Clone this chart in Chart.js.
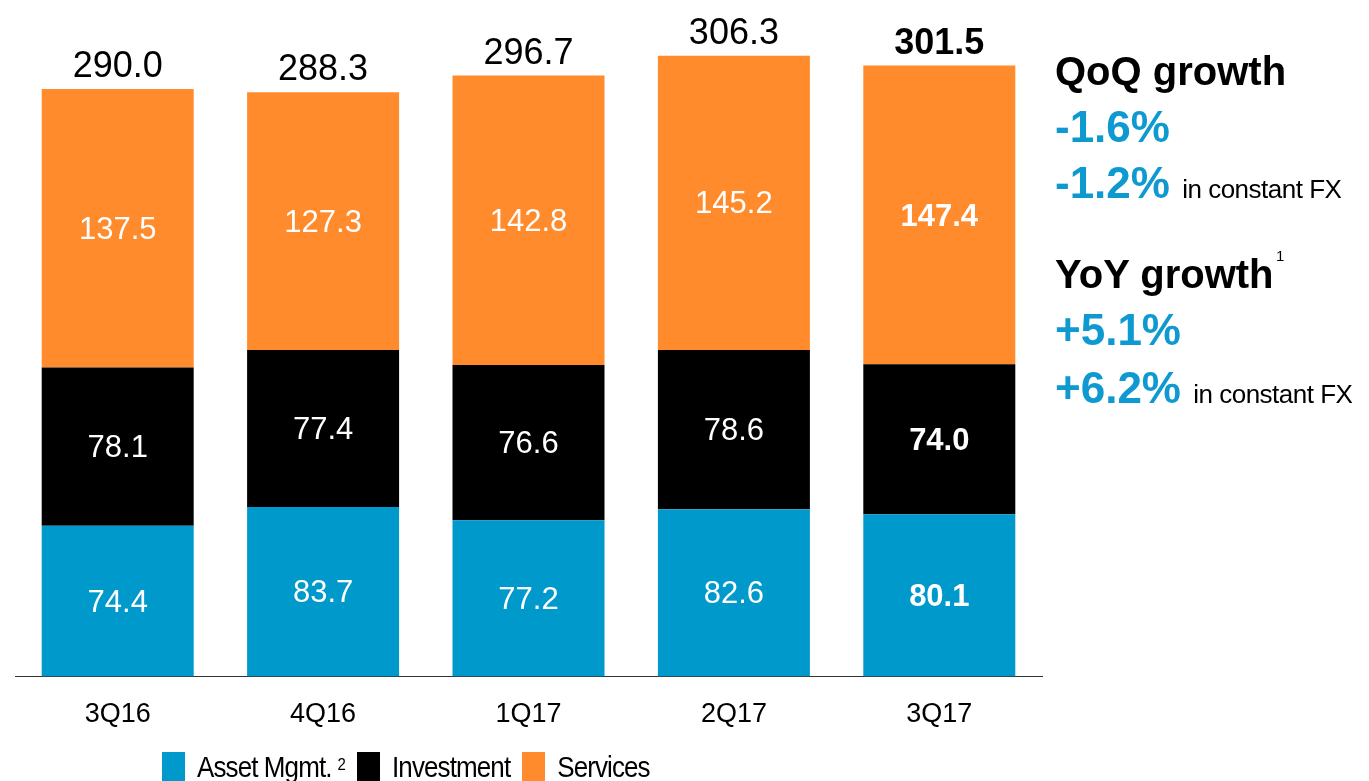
<!DOCTYPE html>
<html>
<head>
<meta charset="utf-8">
<script src="https://cdn.jsdelivr.net/npm/chart.js@4.4.0/dist/chart.umd.min.js"></script>
<style>
    html, body { margin: 0; padding: 0; background: #fff; overflow: hidden; }
    body { width: 1369px; height: 781px; position: relative; font-family: "Liberation Sans", Arial, sans-serif; }
    #wrap { position: absolute; left: 0; top: 0; width: 1369px; height: 781px; }
    .note { position: absolute; left: 1055px; line-height: 1; white-space: nowrap; }
    .head { font-size: 40px; font-weight: bold; color: #000; }
    .pct { font-size: 44px; font-weight: bold; color: #0e9ad0; }
    .pct span { font-size: 26px; font-weight: normal; color: #000; letter-spacing: -0.5px; }
    #legend { position: absolute; left: 162px; top: 752px; display: flex; align-items: flex-start; }
    .item { display: flex; align-items: flex-start; margin-right: 12px; }
    .box { width: 23px; height: 32px; margin-right: 12px; }
    .lab { font-size: 26px; line-height: 1; margin-top: 0px; letter-spacing: -0.9px; transform: scaleY(1.12); transform-origin: top left; }
    .lab sup { font-size: 15px; vertical-align: top; position: relative; top: 3px; margin-left: 6px; }
</style>
</head>
<body>
<div id="wrap"><canvas id="chart"></canvas></div>

<div class="note head" style="top:51px">QoQ growth</div>
<div class="note pct" style="top:105px">-1.6%</div>
<div class="note pct" style="top:161px">-1.2% <span>in constant FX</span></div>
<div class="note head" style="top:254px">YoY growth<span style="position:absolute;left:221px;top:-6px;font-size:15px;font-weight:normal;">1</span></div>
<div class="note pct" style="top:308px">+5.1%</div>
<div class="note pct" style="top:366px">+6.2% <span>in constant FX</span></div>

<div id="legend"></div>

<script>
const quarters = ['3Q16', '4Q16', '1Q17', '2Q17', '3Q17'];
const asset_mgmt = [74.4, 83.7, 77.2, 82.6, 80.1];
const investment = [78.1, 77.4, 76.6, 78.6, 74.0];
const services = [137.5, 127.3, 142.8, 145.2, 147.4];
const totals = [290.0, 288.3, 296.7, 306.3, 301.5];

const series_names = ['Asset Mgmt.', 'Investment', 'Services'];
const series_notes = ['2', '', ''];
const series_colors = ['#0099cc', '#000000', '#ff8b2c'];

const FONT = '"Liberation Sans", Arial, sans-serif';
const bold_index = quarters.length - 1;

// legend as html so the footnote can be a superscript
const legend = document.getElementById('legend');
series_names.forEach((name, i) => {
    const item = document.createElement('div');
    item.className = 'item';
    const box = document.createElement('div');
    box.className = 'box';
    box.style.background = series_colors[i];
    const lab = document.createElement('div');
    lab.className = 'lab';
    lab.textContent = name;
    if (series_notes[i]) {
        const sup = document.createElement('sup');
        sup.textContent = series_notes[i];
        lab.appendChild(sup);
    }
    item.appendChild(box);
    item.appendChild(lab);
    legend.appendChild(item);
});

const barLabels = {
    id: 'barLabels',
    afterDatasetsDraw(chart) {
        const ctx = chart.ctx;
        ctx.save();
        ctx.textAlign = 'center';
        chart.data.datasets.forEach((ds, i) => {
            const meta = chart.getDatasetMeta(i);
            meta.data.forEach((bar, j) => {
                const weight = j === bold_index ? 'bold ' : '';
                ctx.font = weight + '31px ' + FONT;
                ctx.fillStyle = '#fff';
                ctx.textBaseline = 'middle';
                ctx.fillText(ds.data[j].toFixed(1), bar.x, (bar.y + bar.base) / 2 + 2);
            });
        });
        // totals above the stack
        const top = chart.getDatasetMeta(chart.data.datasets.length - 1);
        top.data.forEach((bar, j) => {
            const weight = j === bold_index ? 'bold ' : '';
            ctx.font = weight + '36px ' + FONT;
            ctx.fillStyle = '#000';
            ctx.textBaseline = 'alphabetic';
            ctx.fillText(totals[j].toFixed(1), bar.x, bar.y - 12);
        });
        ctx.restore();
    }
};

new Chart(document.getElementById('chart'), {
    type: 'bar',
    data: {
        labels: quarters,
        datasets: [
            { label: series_names[0], data: asset_mgmt, backgroundColor: series_colors[0] },
            { label: series_names[1], data: investment, backgroundColor: series_colors[1] },
            { label: series_names[2], data: services, backgroundColor: series_colors[2] }
        ]
    },
    options: {
        responsive: true,
        maintainAspectRatio: false,
        animation: false,
        datasets: {
            bar: {
                categoryPercentage: 0.74,
                barPercentage: 1.0,
                borderWidth: 0
            }
        },
        layout: {
            padding: { left: 15, right: 327, top: 20, bottom: 28 }
        },
        plugins: {
            legend: { display: false },
            tooltip: { enabled: false }
        },
        scales: {
            x: {
                stacked: true,
                grid: { display: false, drawTicks: false, tickLength: 0 },
                border: { display: true, color: '#333', width: 1 },
                ticks: {
                    color: '#000',
                    padding: 22,
                    font: { family: FONT, size: 27 }
                }
            },
            y: {
                stacked: true,
                display: false,
                min: 0,
                max: 324
            }
        }
    },
    plugins: [barLabels]
});
</script>
</body>
</html>
